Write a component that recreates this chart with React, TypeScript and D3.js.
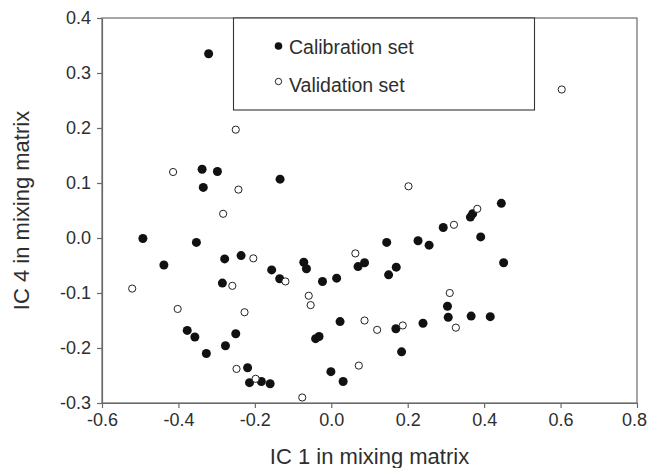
import React, { useEffect, useRef } from 'react';
import * as d3 from 'd3';

// calibration set
const calX = [-0.321, -0.338, -0.298, -0.335, -0.134, -0.493, -0.353, 0.145, 0.445, 0.364,
  0.370, 0.293, 0.391, 0.227, 0.256, -0.438, -0.279, -0.236, -0.285, -0.377,
  -0.357, -0.250, -0.277, -0.327, -0.219, -0.214, -0.156, -0.135, -0.072, -0.065,
  -0.023, 0.014, 0.070, 0.087, 0.150, 0.170, 0.023, 0.169, -0.041, -0.032,
  0.184, -0.001, 0.031, -0.183, -0.160, 0.451, 0.304, 0.306, 0.366, 0.416, 0.240];
const calY = [0.335, 0.125, 0.121, 0.092, 0.107, -0.001, -0.008, -0.008, 0.063, 0.038,
  0.044, 0.019, 0.002, -0.005, -0.013, -0.049, -0.038, -0.032, -0.082, -0.168,
  -0.180, -0.174, -0.196, -0.210, -0.236, -0.263, -0.058, -0.074, -0.044, -0.056,
  -0.079, -0.073, -0.052, -0.045, -0.067, -0.053, -0.152, -0.165, -0.183, -0.179,
  -0.207, -0.243, -0.261, -0.261, -0.265, -0.045, -0.124, -0.144, -0.142, -0.143, -0.155];

// validation set
const valX = [-0.250, -0.414, -0.243, -0.283, 0.202, 0.382, 0.321, -0.204, -0.521, -0.259,
  -0.402, -0.227, -0.248, -0.198, -0.120, 0.063, -0.059, -0.054, 0.087, 0.120,
  0.187, 0.072, -0.076, 0.310, 0.326, 0.603];
const valY = [0.197, 0.120, 0.088, 0.044, 0.094, 0.053, 0.024, -0.037, -0.092, -0.087,
  -0.129, -0.135, -0.238, -0.256, -0.079, -0.028, -0.105, -0.122, -0.150, -0.167,
  -0.159, -0.232, -0.290, -0.100, -0.163, 0.270];

const xTicks = [-0.6, -0.4, -0.2, 0.0, 0.2, 0.4, 0.6, 0.8];
const yTicks = [-0.3, -0.2, -0.1, 0.0, 0.1, 0.2, 0.3, 0.4];
const legendLabels = ['Calibration set', 'Validation set'];

const W = 648;
const H = 468;
const margin = { left: 102, right: 11, top: 18, bottom: 65 };
const font = 'Liberation Sans, Arial, Helvetica, sans-serif';
const textCol = '#2e2e2e';
const axisCol = '#6a6a6a';

// plain hyphen for negatives, like the original
const fmt = (v: number) => v.toFixed(1);

export default function App() {
  const svgRef = useRef<SVGSVGElement>(null);

  useEffect(() => {
    const svg = d3.select(svgRef.current);
    svg.selectAll('*').remove();

    const x = d3.scaleLinear().domain([-0.6, 0.8]).range([margin.left, W - margin.right]);
    const y = d3.scaleLinear().domain([-0.3, 0.4]).range([H - margin.bottom, margin.top]);

    // frame
    svg.append('rect')
      .attr('x', x(-0.6)).attr('y', y(0.4))
      .attr('width', x(0.8) - x(-0.6)).attr('height', y(-0.3) - y(0.4))
      .attr('fill', 'none').attr('stroke', axisCol).attr('stroke-width', 1.2);

    const xAxis = svg.append('g')
      .attr('transform', `translate(0,${y(-0.3)})`)
      .call(d3.axisBottom(x).tickValues(xTicks).tickFormat(d => fmt(+d)).tickSize(5).tickSizeOuter(0).tickPadding(5));
    const yAxis = svg.append('g')
      .attr('transform', `translate(${x(-0.6)},0)`)
      .call(d3.axisLeft(y).tickValues(yTicks).tickFormat(d => fmt(+d)).tickSize(5).tickSizeOuter(0).tickPadding(6));

    [xAxis, yAxis].forEach(g => {
      g.select('.domain').attr('stroke', axisCol).attr('stroke-width', 1.2);
      g.selectAll('.tick line').attr('stroke', axisCol).attr('stroke-width', 1.2);
      g.selectAll('.tick text')
        .attr('fill', textCol)
        .style('font-family', font)
        .style('font-size', '18px');
    });
    // last x label sits against the window edge
    xAxis.selectAll<SVGTextElement, number>('.tick text')
      .filter(d => d === 0.8)
      .attr('dx', -3);

    // legend box
    svg.append('rect')
      .attr('x', 233.5).attr('y', y(0.4))
      .attr('width', 301).attr('height', 110 - y(0.4))
      .attr('fill', 'white').attr('stroke', '#333').attr('stroke-width', 1.1);

    svg.append('circle').attr('cx', 278.5).attr('cy', 46).attr('r', 3.8).attr('fill', '#111');
    svg.append('circle').attr('cx', 278.5).attr('cy', 81.5).attr('r', 3.2).attr('fill', 'white')
      .attr('stroke', '#222').attr('stroke-width', 1);

    svg.selectAll('text.leg')
      .data(legendLabels)
      .join('text')
      .attr('class', 'leg')
      .attr('x', 289)
      .attr('y', (d, i) => 54 + i * 37.5)
      .attr('fill', textCol)
      .style('font-family', font)
      .style('font-size', '19.5px')
      .text(d => d);

    // calibration points
    svg.append('g')
      .selectAll('circle')
      .data(d3.range(calX.length))
      .join('circle')
      .attr('cx', i => x(calX[i]))
      .attr('cy', i => y(calY[i]))
      .attr('r', 4.5)
      .attr('fill', '#111');

    // validation points
    svg.append('g')
      .selectAll('circle')
      .data(d3.range(valX.length))
      .join('circle')
      .attr('cx', i => x(valX[i]))
      .attr('cy', i => y(valY[i]))
      .attr('r', 3.6)
      .attr('fill', 'white')
      .attr('stroke', '#222')
      .attr('stroke-width', 1);

    // axis titles
    svg.append('text')
      .attr('x', (x(-0.6) + x(0.8)) / 2)
      .attr('y', 464)
      .attr('text-anchor', 'middle')
      .attr('fill', textCol)
      .style('font-family', font)
      .style('font-size', '22px')
      .text('IC 1 in mixing matrix');

    svg.append('text')
      .attr('transform', `translate(29,${(y(-0.3) + y(0.4)) / 2}) rotate(-90)`)
      .attr('text-anchor', 'middle')
      .attr('fill', textCol)
      .style('font-family', font)
      .style('font-size', '22px')
      .text('IC 4 in mixing matrix');
  }, []);

  return (
    <svg ref={svgRef} width={W} height={H}
      style={{ position: 'absolute', left: 0, top: 0, background: 'white' }} />
  );
}
